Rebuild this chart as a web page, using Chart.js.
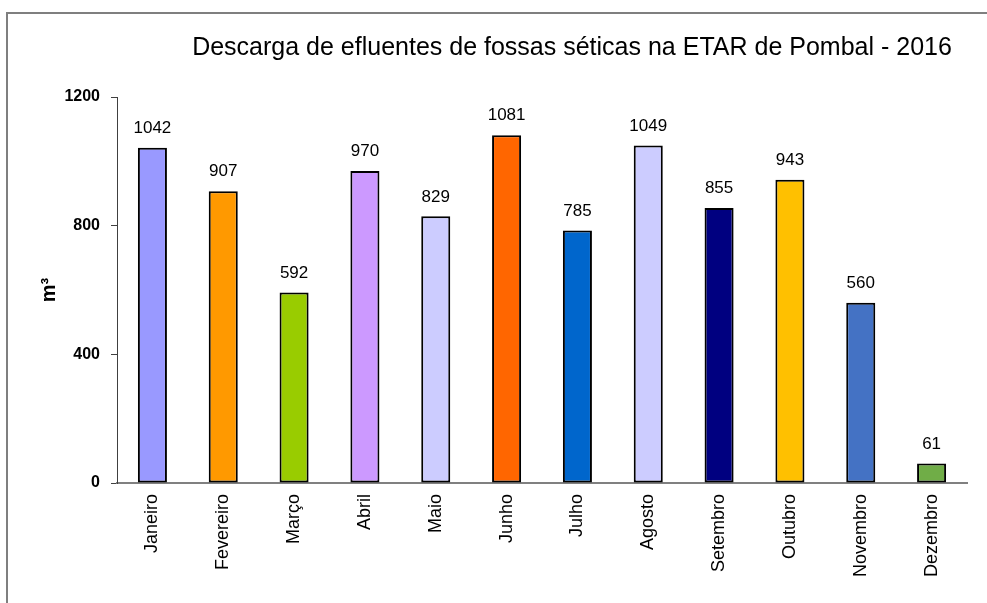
<!DOCTYPE html>
<html>
<head>
<meta charset="utf-8">
<script src="https://cdn.jsdelivr.net/npm/chart.js@4.4.1/dist/chart.umd.min.js"></script>
<style>
  html, body { margin: 0; padding: 0; background: #ffffff; }
  #wrap { width: 987px; height: 603px; position: relative; }
</style>
</head>
<body>
<div id="wrap"><canvas id="c" width="987" height="603"></canvas></div>
<script>
const chartTitle = "Descarga de efluentes de fossas séticas na ETAR de Pombal - 2016";
const yAxisTitle = "m³";
const months = ["Janeiro", "Fevereiro", "Março", "Abril", "Maio", "Junho", "Julho", "Agosto", "Setembro", "Outubro", "Novembro", "Dezembro"];
const volumes = [1042, 907, 592, 970, 829, 1081, 785, 1049, 855, 943, 560, 61];
const barColors = ["#9999FF", "#FF9900", "#99CC00", "#CC99FF", "#CCCCFF", "#FF6600", "#0066CC", "#CCCCFF", "#000080", "#FFC000", "#4472C4", "#70AD47"];
const yTicks = [0, 400, 800, 1200];

const FONT = "'Liberation Sans', Arial, sans-serif";

const framePlugin = {
  id: 'frame',
  beforeDraw(chart) {
    const ctx = chart.ctx;
    ctx.save();
    ctx.fillStyle = '#ffffff';
    ctx.fillRect(0, 0, chart.width, chart.height);
    ctx.strokeStyle = '#7f7f7f';
    ctx.lineWidth = 2;
    ctx.strokeRect(7, 13, 1100, 1100);
    ctx.restore();
  }
};

const titlePlugin = {
  id: 'customTitle',
  afterDraw(chart) {
    const ctx = chart.ctx;
    ctx.save();
    ctx.font = "25px " + FONT;
    ctx.fillStyle = '#000000';
    ctx.textAlign = 'center';
    ctx.textBaseline = 'middle';
    ctx.fillText(chartTitle, 572, 48);
    ctx.restore();
  }
};

const valueLabels = {
  id: 'valueLabels',
  afterDatasetsDraw(chart) {
    const ctx = chart.ctx;
    const meta = chart.getDatasetMeta(0);
    ctx.save();
    ctx.font = "17px " + FONT;
    ctx.fillStyle = '#000000';
    ctx.textAlign = 'center';
    ctx.textBaseline = 'bottom';
    meta.data.forEach((bar, i) => {
      ctx.fillText(String(volumes[i]), bar.x, bar.y - 11);
    });
    ctx.restore();
  }
};

new Chart(document.getElementById('c'), {
  type: 'bar',
  data: {
    labels: months,
    datasets: [{
      data: volumes,
      backgroundColor: barColors,
      borderColor: '#000000',
      borderWidth: 2,
      borderSkipped: false,
      barPercentage: 0.41,
      categoryPercentage: 1.0
    }]
  },
  options: {
    responsive: false,
    animation: false,
    devicePixelRatio: 1,
    layout: { padding: { left: 0, right: 20, top: 97, bottom: 0 } },
    plugins: {
      legend: { display: false },
      title: { display: false },
      tooltip: { enabled: false }
    },
    scales: {
      x: {
        grid: { display: false, drawTicks: false },
        border: { display: true, color: '#808080', width: 2 },
        ticks: {
          color: '#000000',
          font: { family: FONT, size: 18 },
          minRotation: 90,
          maxRotation: 90,
          padding: 11,
          autoSkip: false
        },
        afterFit(scale) { scale.height = 120; }
      },
      y: {
        min: 0,
        max: 1200,
        afterBuildTicks(scale) { scale.ticks = yTicks.map(v => ({ value: v })); },
        grid: { display: true, drawOnChartArea: false, drawTicks: true, tickLength: 6, color: '#404040', lineWidth: 1 },
        border: { display: true, color: '#404040', width: 1 },
        ticks: {
          color: '#000000',
          font: { family: FONT, size: 16, weight: 'bold' },
          padding: 11,
          callback: (v) => String(v)
        },
        title: {
          display: true,
          text: yAxisTitle,
          color: '#000000',
          font: { family: FONT, size: 20, weight: 'bold' },
          padding: { top: 37, bottom: 0 }
        },
        afterFit(scale) { scale.width = 117; }
      }
    }
  },
  plugins: [framePlugin, titlePlugin, valueLabels]
});
</script>
</body>
</html>
